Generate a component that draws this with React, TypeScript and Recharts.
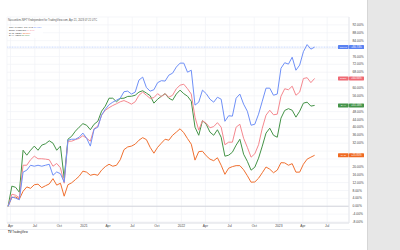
import React from "react";
import { LineChart, Line, XAxis, YAxis, CartesianGrid, ReferenceLine } from "recharts";

// biweekly samples, % change since the first bar (week of 23 Mar 2020)
const START = Date.UTC(2020, 2, 23);
const STEP = 14 * 24 * 3600 * 1000;

const cnxIt = [
  0, 4.7, 4.1, 3.3, 17.3, 18.3, 20.8, 20.3, 20.8, 20.3,
  20.8, 21.3, 15.7, 17.4, 16.5, 12.2, 33.5, 34, 34, 35,
  37.1, 34.5, 30.5, 39.1, 40.1, 46.2, 49.2, 51.5, 52.8, 53.8,
  54.8, 58.1, 58.4, 56.9, 57.9, 64, 65.5, 60.2, 58.4, 59.1,
  62.7, 63.7, 63.5, 66.5, 67.5, 70.6, 72.6, 72.6, 68, 69,
  51.3, 52.8, 58.9, 57.1, 54.3, 52.8, 55.3, 54.3, 43.1, 45.9,
  45.7, 54.8, 56.9, 51.8, 48.2, 41.1, 41.6, 46.7, 53.3, 59.9,
  59.9, 56.3, 56.9, 70, 72.8, 72.1, 75.6, 69, 71.6, 78.4,
  82, 79.7, 80.73,
];
const fuspow = [
  0, 6.1, 5.6, 4.3, 20.8, 20.8, 23.6, 25.4, 24.1, 24.1,
  23.9, 23.6, 20.3, 21.7, 19.5, 11.7, 33, 33, 33.8, 34.4,
  35.8, 34.5, 33, 39.3, 40.6, 46.2, 48.7, 50, 51.1, 52,
  53, 53.6, 52.8, 51.8, 53, 56.3, 57.9, 56.3, 54.7, 55.1,
  57.1, 55.6, 57.1, 55.3, 56.3, 59.6, 61.4, 61.9, 59.6, 56.9,
  45.2, 38.6, 43.4, 42.1, 39.8, 40.4, 42.4, 40.1, 31.2, 32.5,
  32.5, 40.1, 41.6, 34.5, 29.9, 24.9, 26.6, 31.2, 39.6, 46.2,
  48.7, 46.4, 46.7, 55.8, 59.6, 59.1, 60.9, 56.3, 57.9, 64.8,
  65.2, 62.7, 64.84,
];
const dax = [
  0, 10.2, 9.6, 7.1, 28.4, 25.9, 28.4, 30.5, 28.4, 31,
  31.7, 33.2, 32, 28.4, 30.5, 14.2, 34, 35.5, 38.1, 40.1,
  41.9, 41.1, 38.8, 41.6, 43.1, 48.2, 50.8, 54.8, 54.8, 53,
  54.7, 54.8, 55.7, 55.8, 56.3, 57.9, 58.6, 57.4, 56.1, 52.3,
  54.3, 55.8, 57.1, 54.8, 53.8, 56.9, 58.9, 57.1, 55.8, 53.3,
  40.1, 36, 43.4, 41.6, 37.6, 36, 38.8, 35, 25.4, 25.9,
  27.4, 31, 34, 26.4, 22.8, 18.3, 19.8, 24.4, 30.5, 37.1,
  39.6, 36, 35, 44.7, 48.6, 49.5, 48.7, 45.2, 48.2, 52.3,
  52.8, 50.8, 51.16,
];
const nasIdx = [
  0, 4.4, 4.7, 3.6, 7.6, 9.8, 9.1, 10.9, 11.2, 9.4,
  10.4, 11.3, 14, 10.7, 11.7, 5.1, 10.9, 11.9, 13.5, 15.2,
  17.8, 17.3, 15.7, 16.2, 15.7, 18.3, 20.1, 21.3, 20.3, 20.8,
  23.6, 28.7, 30.1, 30.5, 31.5, 33.5, 34.8, 33.8, 29.9, 26.9,
  29.9, 32, 34, 33.5, 36, 37.6, 39.3, 37.3, 34.3, 31.5,
  23.4, 27.7, 27.9, 25.6, 23.9, 23.1, 24.6, 20.8, 16.2, 19.3,
  20.1, 20.6, 20.6, 18.5, 15.5, 12.2, 12.3, 14.2, 17, 19.9,
  18.8, 17, 18.3, 22.1, 22, 20.8, 21.6, 17.3, 17.3, 21.3,
  23.9, 24.9, 25.85,
];

const tickDates = [
  "2020-04-01", "2020-07-01", "2020-10-01", "2021-01-01", "2021-04-01", "2021-07-01", "2021-10-01",
  "2022-01-01", "2022-04-01", "2022-07-01", "2022-10-01", "2023-01-01", "2023-04-01", "2023-07-01",
];
const tickLabels = ["Apr", "Jul", "Oct", "2021", "Apr", "Jul", "Oct", "2022", "Apr", "Jul", "Oct", "2023", "Apr", "Jul"];
const yTicks = [-8, -4, 0, 4, 8, 12, 16, 20, 24, 28, 32, 36, 40, 44, 48, 52, 56, 60, 64, 68, 72, 76, 80, 84, 88, 92];

const seriesNames = ["CNX IT Index, 1W, TVC", "EU50, FUSPOW", "NAS, INDEX", "DAX, XETR"];
const tagNames = ["CNXIT", "EU50", "NAS", "DAX"];

const COLORS = { it: "#6f90f7", eu: "#f5888f", nas: "#f07030", dax: "#449347" };
const TAG_COLORS = { it: "#5a82f2", eu: "#ef6a74", nas: "#ef6a22", dax: "#45944a" };

const xTicks = tickDates.map((d) => (Date.parse(d) - START) / STEP);
const rows = cnxIt.map((v, i) => ({ t: i, it: v, eu: fuspow[i], dax: dax[i], nas: nasIdx[i] }));
const LAST = cnxIt.length - 1;
const lastValues = [cnxIt[LAST], fuspow[LAST], dax[LAST], nasIdx[LAST]];
const PLOT_RIGHT = 349;

function makeTag(name: string, color: string) {
  return (p: any) => {
    if (p.index !== LAST) return <g />;
    const y = p.y;
    const pct = "+" + Number(p.value).toFixed(2) + "%";
    return (
      <g>
        <rect x={PLOT_RIGHT - 11} y={y - 2} width={10.6} height={4} rx={0.6} fill={color} />
        <text x={PLOT_RIGHT - 5.7} y={y + 0.9} fontSize={2.4} fill="#fff" textAnchor="middle">{name}</text>
        <rect x={PLOT_RIGHT} y={y - 2} width={15} height={4} rx={0.6} fill={color} />
        <text x={PLOT_RIGHT + 7.5} y={y + 0.9} fontSize={2.6} fill="#fff" textAnchor="middle">{pct}</text>
      </g>
    );
  };
}

// axis labels sitting under a value tag are covered by it
function YTick(p: any) {
  const v = p.payload.value;
  if (lastValues.some((lv) => Math.abs(lv - v) < 2.6)) return <g />;
  return (
    <text x={p.x + 1.5} y={p.y + 1.1} fontSize={3.3} fill="#444">
      {v.toFixed(2) + "%"}
    </text>
  );
}

export default function App() {
  const legend = [
    { name: seriesNames[0], val: cnxIt[LAST], c: COLORS.it },
    { name: seriesNames[1], val: fuspow[LAST], c: COLORS.eu },
    { name: seriesNames[2], val: nasIdx[LAST], c: COLORS.nas },
    { name: seriesNames[3], val: dax[LAST], c: COLORS.dax },
  ];
  return (
    <div style={{ position: "absolute", left: 0, top: 0, width: 400, height: 250, background: "#fff", fontFamily: "Liberation Sans, Arial, sans-serif", overflow: "hidden" }}>
      <div style={{ position: "absolute", left: 367, top: 0, width: 33, height: 250, background: "#e7e7e7", borderLeft: "1px solid #d6d6d6" }} />
      <div style={{ position: "absolute", left: 0, top: 228.5, width: 350, height: 0, borderTop: "1px solid #eceef2" }} />
      <LineChart width={367} height={250} data={rows} margin={{ top: 17, right: 0, bottom: 17, left: 7 }}>
        <CartesianGrid stroke="#f0f2f6" strokeWidth={0.7} />
        <XAxis
          dataKey="t"
          type="number"
          domain={[-0.3, 91.2]}
          ticks={xTicks}
          tickFormatter={(v: number) => tickLabels[xTicks.indexOf(v)]}
          height={10}
          tickSize={0}
          tickMargin={1.6}
          tick={{ fontSize: 3.3, fill: "#444" }}
          axisLine={{ stroke: "#dfe1e6" }}
          interval={0}
        />
        <YAxis
          orientation="right"
          type="number"
          domain={[-8.5, 96]}
          ticks={yTicks}
          width={18}
          tickSize={0}
          tick={<YTick />}
          axisLine={{ stroke: "#e6e8ec" }}
          interval={0}
        />
        <ReferenceLine y={0} stroke="#c9ccd3" strokeWidth={0.8} />
        <ReferenceLine y={cnxIt[LAST]} stroke="#b9cdfb" strokeWidth={0.8} strokeDasharray="1 0.6" />
        <Line dataKey="nas" stroke={COLORS.nas} strokeWidth={1} dot={false} isAnimationActive={false} label={makeTag(tagNames[2], TAG_COLORS.nas)} />
        <Line dataKey="dax" stroke={COLORS.dax} strokeWidth={1} dot={false} isAnimationActive={false} label={makeTag(tagNames[3], TAG_COLORS.dax)} />
        <Line dataKey="eu" stroke={COLORS.eu} strokeWidth={1} dot={false} isAnimationActive={false} label={makeTag(tagNames[1], TAG_COLORS.eu)} />
        <Line dataKey="it" stroke={COLORS.it} strokeWidth={1} dot={false} isAnimationActive={false} label={makeTag(tagNames[0], TAG_COLORS.it)} />
      </LineChart>
      <div style={{ position: "absolute", left: 8, top: 19.2, fontSize: 2.6, color: "#555", whiteSpace: "nowrap", lineHeight: "3px" }}>
        Nassonkim-NIFTYIndependent for TradingView.com, Apr 21, 2023 07:21 UTC
      </div>
      <div style={{ position: "absolute", left: 8, top: 25.5, background: "rgba(255,255,255,0.85)", padding: "0.5px 1px" }}>
        {legend.map((r) => (
          <div key={r.name} style={{ fontSize: 2.3, lineHeight: "2.8px", color: "#333", whiteSpace: "nowrap" }}>
            {r.name} <span style={{ color: r.c }}>{r.val.toFixed(2)}%</span>
          </div>
        ))}
      </div>
      <div style={{ position: "absolute", left: 8, top: 231, fontSize: 2.8, color: "#222", whiteSpace: "nowrap", lineHeight: "3px" }}>
        <b>TV</b> TradingView
      </div>
    </div>
  );
}
